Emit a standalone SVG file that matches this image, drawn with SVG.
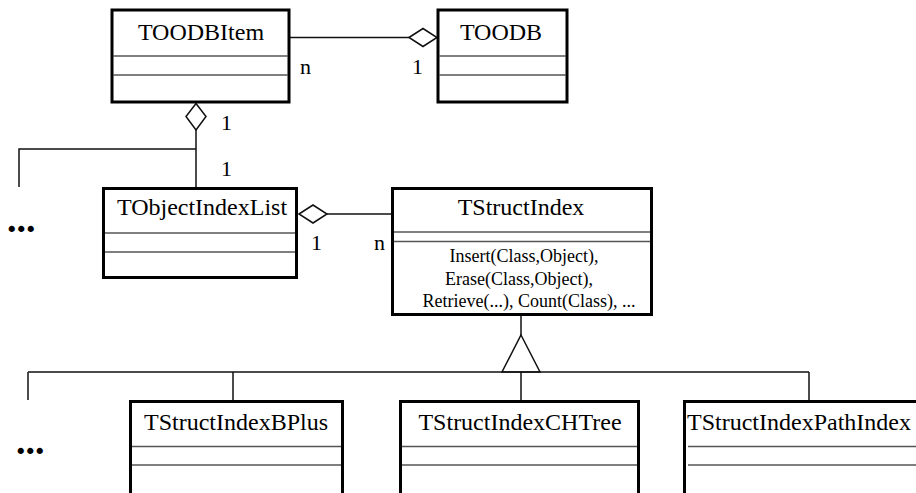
<svg xmlns="http://www.w3.org/2000/svg" width="916" height="493" viewBox="0 0 916 493">
  <style>
    .box { fill: #fff; stroke: #000; stroke-width: 3; }
    .sep { stroke: #555; stroke-width: 1.5; }
    text { font-family: 'Liberation Serif', 'DejaVu Serif', 'Times New Roman', Times, serif; fill: #000; }
    .title { font-size: 24px; text-anchor: middle; }
    .op { font-size: 18px; text-anchor: middle; }
    .mult { font-size: 22px; }
    .dots { font-size: 38px; font-weight: bold; }
    .wire { fill: none; stroke: #111; stroke-width: 1.5; }
    .agg { fill: #fff; stroke: #111; stroke-width: 1.5; }
  </style>

  <rect width="916" height="493" fill="#fff"/>

  <!-- connectors -->
  <g id="connectors">
    <!-- TOODBItem aggregated by TOODB -->
    <line class="wire" x1="290" y1="37.5" x2="409" y2="37.5"/>
    <polygon class="agg" points="409,37.5 423,28.5 437,37.5 423,46.5"/>
    <!-- TObjectIndexList aggregated by TOODBItem -->
    <polygon class="agg" points="196,103.5 206,116.5 196,130 186,116.5"/>
    <line class="wire" x1="196" y1="130" x2="196" y2="188"/>
    <polyline class="wire" points="196,149 19,149 19,187"/>
    <!-- TStructIndex aggregated by TObjectIndexList -->
    <polygon class="agg" points="299,214 313,205 327,214 313,223"/>
    <line class="wire" x1="327" y1="214" x2="392" y2="214"/>
    <!-- generalization to TStructIndex -->
    <line class="wire" x1="521" y1="316" x2="521" y2="335"/>
    <polygon class="agg" points="521,335 540,372 502,372"/>
    <line class="wire" x1="28" y1="372" x2="809" y2="372"/>
    <line class="wire" x1="28" y1="372" x2="28" y2="400"/>
    <line class="wire" x1="233" y1="372" x2="233" y2="401"/>
    <line class="wire" x1="521" y1="372" x2="521" y2="401"/>
    <line class="wire" x1="809" y1="372" x2="809" y2="401"/>

    <!-- multiplicities -->
    <text class="mult" x="300" y="74">n</text>
    <text class="mult" x="412" y="74">1</text>
    <text class="mult" x="221" y="130">1</text>
    <text class="mult" x="221" y="176">1</text>
    <text class="mult" x="311" y="250">1</text>
    <text class="mult" x="374" y="250">n</text>

    <!-- elided classes -->
    <text class="dots" x="7" y="232">...</text>
    <text class="dots" x="16" y="454">...</text>
  </g>

  <g id="TOODBItem">
    <rect class="box" x="112" y="10" width="177" height="92"/>
    <line class="sep" x1="113" y1="56" x2="288" y2="56"/>
    <line class="sep" x1="113" y1="75" x2="288" y2="75"/>
    <text class="title" x="201" y="40">TOODBItem</text>
  </g>

  <g id="TOODB">
    <rect class="box" x="438" y="10" width="129" height="92"/>
    <line class="sep" x1="439" y1="56" x2="566" y2="56"/>
    <line class="sep" x1="439" y1="75" x2="566" y2="75"/>
    <text class="title" x="501" y="40">TOODB</text>
  </g>

  <g id="TObjectIndexList">
    <rect class="box" x="103.5" y="188.5" width="193" height="89"/>
    <line class="sep" x1="105" y1="233" x2="295" y2="233"/>
    <line class="sep" x1="105" y1="252" x2="295" y2="252"/>
    <text class="title" x="202" y="215">TObjectIndexList</text>
  </g>

  <g id="TStructIndex">
    <rect class="box" x="392.5" y="188.5" width="259" height="126"/>
    <line class="sep" x1="394" y1="232" x2="650" y2="232"/>
    <line class="sep" x1="394" y1="241.5" x2="650" y2="241.5"/>
    <text class="title" x="521" y="215">TStructIndex</text>
    <text class="op" x="524" y="262">Insert(Class,Object),</text>
    <text class="op" x="519" y="284.5">Erase(Class,Object),</text>
    <text class="op" x="529" y="307">Retrieve(...), Count(Class), ...</text>
  </g>

  <g id="TStructIndexBPlus">
    <rect class="box" x="130.5" y="401.5" width="212" height="100"/>
    <line class="sep" x1="132" y1="446.5" x2="341" y2="446.5"/>
    <line class="sep" x1="132" y1="465" x2="341" y2="465"/>
    <text class="title" x="236" y="430">TStructIndexBPlus</text>
  </g>

  <g id="TStructIndexCHTree">
    <rect class="box" x="400.5" y="401.5" width="238" height="100"/>
    <line class="sep" x1="402" y1="446.5" x2="637" y2="446.5"/>
    <line class="sep" x1="402" y1="465" x2="637" y2="465"/>
    <text class="title" x="520" y="430">TStructIndexCHTree</text>
  </g>

  <g id="TStructIndexPathIndex">
    <rect class="box" x="684.5" y="401.5" width="240" height="100"/>
    <line class="sep" x1="688" y1="446.5" x2="923" y2="446.5"/>
    <line class="sep" x1="688" y1="465" x2="923" y2="465"/>
    <text class="title" x="687" y="430" style="text-anchor:start">TStructIndexPathIndex</text>
  </g>
</svg>
